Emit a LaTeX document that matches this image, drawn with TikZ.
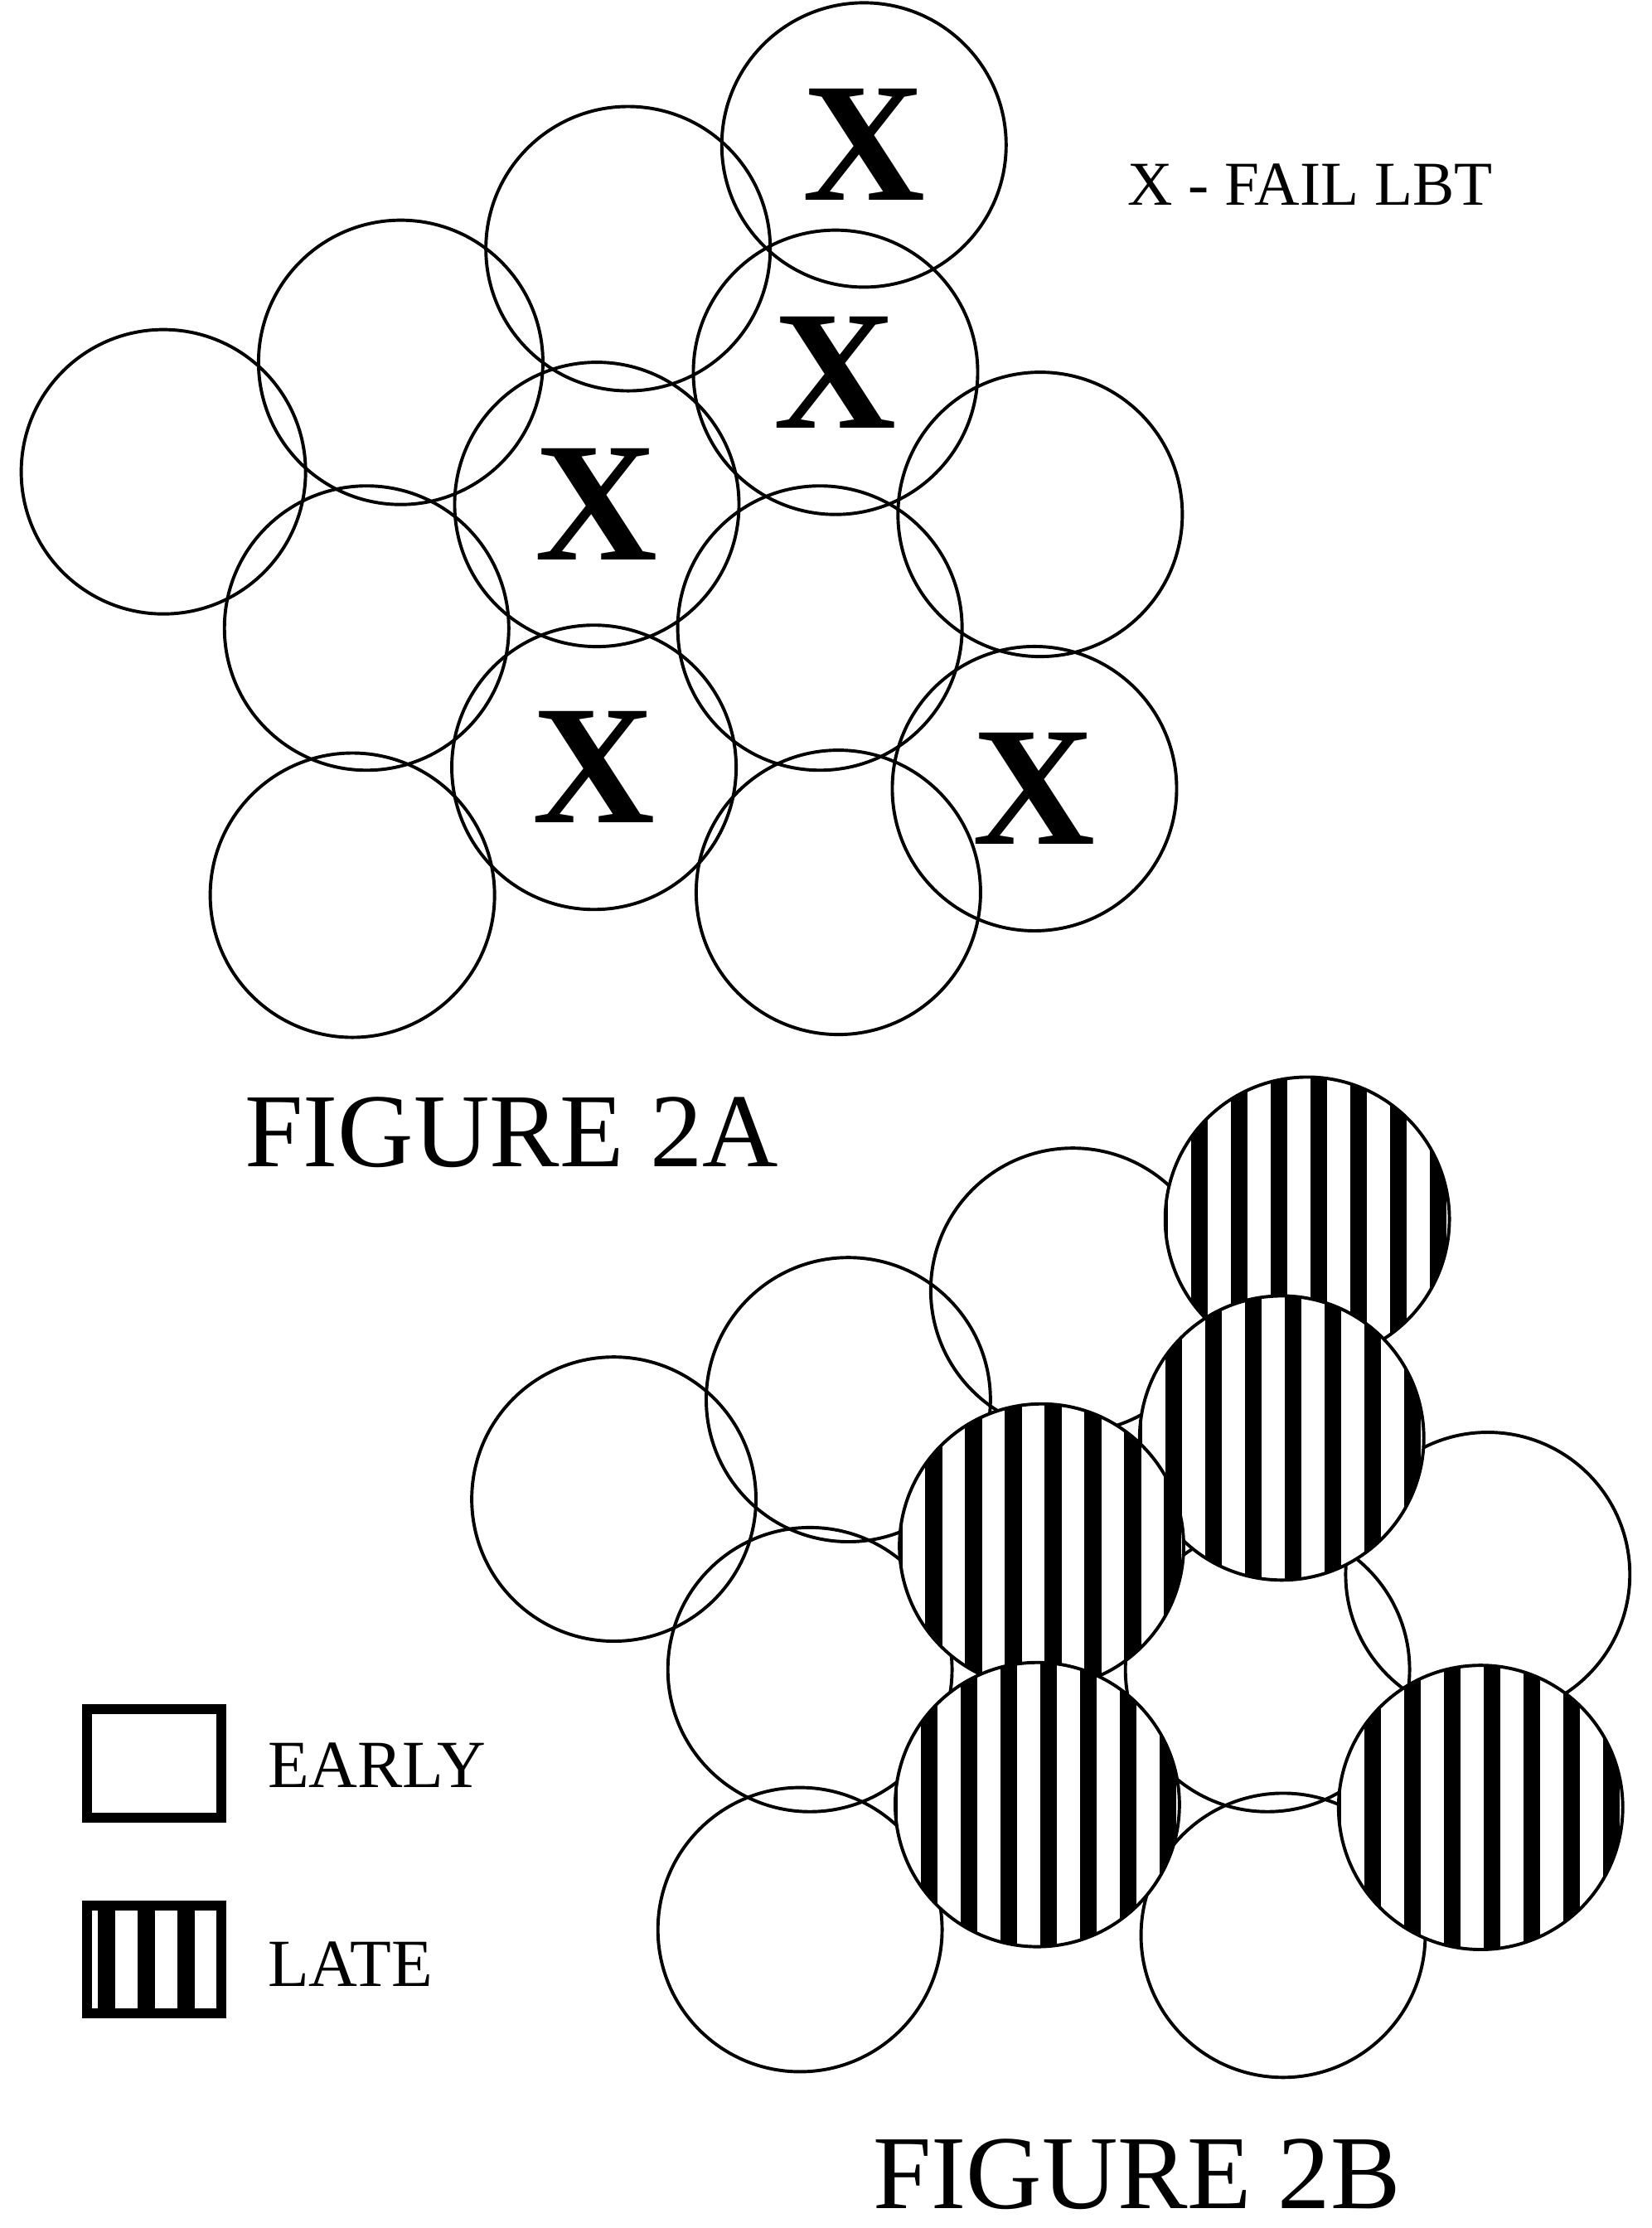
\documentclass[tikz,border=0pt]{standalone}
\usepackage{fontspec}
\setmainfont{Liberation Serif}
\tikzset{
  cell/.style={draw, line width=0.65pt},
  bigx/.style={font=\fontsize{34}{34}\selectfont\bfseries},
  caption/.style={font=\fontsize{21}{21}\selectfont},
  legendtext/.style={font=\fontsize{13.5}{13.5}\selectfont, anchor=west},
}
\newcommand{\stripecell}[2]{%
  \begin{scope}
    \clip (#1,#2) circle (100);
    \fill[white] (#1,#2) circle (100);
    \foreach \k in {-112,-84,...,112}
      \fill[black] ({#1+\k+2},{#2-100}) rectangle ({#1+\k+14},{#2+100});
  \end{scope}
  \draw[cell] (#1,#2) circle (100);}
\begin{document}
\begin{tikzpicture}[x=0.01cm,y=-0.01cm]
\useasboundingbox (0,0) rectangle (1162,1568);
% figure 2A
\foreach \cx/\cy [count=\i] in {608/102,442/175,282/255,115/332,588/262,420/355,732/362,258/442,577/442,418/540,728/555,248/630,590/628}
  \node[cell, circle, minimum size=2cm, inner sep=0pt] (a\i) at (\cx,\cy) {};
\foreach \i in {1,5,6,10,11}
  \node[bigx] at (a\i) {X};
\node[font=\fontsize{12.5}{12.5}\selectfont] (key) at (922,130) {X - FAIL LBT};
\node[caption] (capa) at (360,797) {FIGURE 2A};
% figure 2B
\foreach \cx/\cy in {755/908,597/985,432/1055,1047/1108,570/1175,892/1175,563/1358,903/1362}
  \draw[cell] (\cx,\cy) circle (100);
\stripecell{920}{858}
\stripecell{902}{1012}
\stripecell{733}{1088}
\stripecell{730}{1270}
\stripecell{1042}{1272}
% legend
\draw[line width=2pt] (61,1203) rectangle (156,1279);
\node[legendtext] (early) at (176,1242) {EARLY};
\begin{scope}
  \clip (61,1341) rectangle (156,1417);
  \foreach \k in {0,28,...,84}
    \fill[black] ({61+\k+8},1341) rectangle ({61+\k+20},1417);
\end{scope}
\draw[line width=2pt] (61,1341) rectangle (156,1417);
\node[legendtext] (late) at (176,1382) {LATE};
\node[caption] (capb) at (800,1530) {FIGURE 2B};
\end{tikzpicture}
\end{document}
